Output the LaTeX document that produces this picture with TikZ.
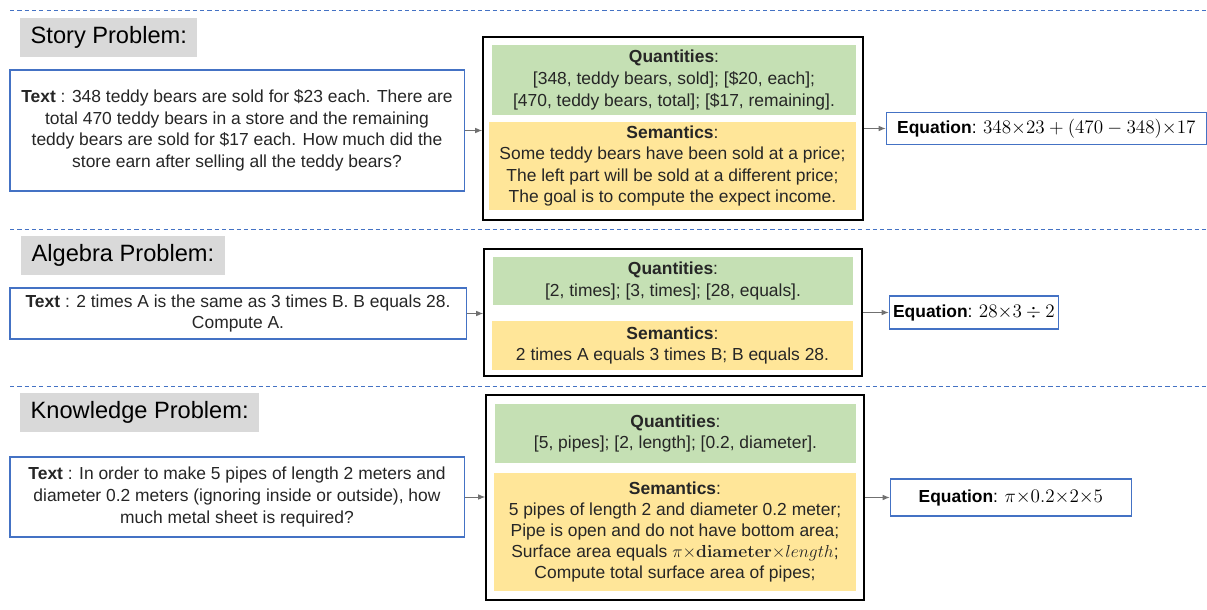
\documentclass[tikz,border=0pt]{standalone}
\usepackage{fix-cm}
\usepackage[no-math]{fontspec}
\setmainfont{Liberation Sans}
\usetikzlibrary{arrows.meta, positioning}
\definecolor{sepblue}{RGB}{68, 114, 196}
\definecolor{quagreen}{RGB}{197, 224, 180}
\definecolor{semyellow}{RGB}{255, 230, 153}
\definecolor{labgray}{RGB}{217, 217, 217}
\definecolor{arrgray}{RGB}{112, 112, 112}
\newcommand{\eqmath}[1]{{\fontsize{13.6}{15}\selectfont$#1$}}

\begin{document}
\begin{tikzpicture}[
    x=0.025cm, y=-0.025cm,
    probtitle/.style={rectangle, fill=labgray, anchor=west, minimum height=0.975cm, inner xsep=0.26cm, font=\fontsize{16.8}{20}\selectfont},
    textbox/.style={rectangle, draw=sepblue, line width=0.8pt, fill=white, align=center, font=\fontsize{12.4}{15.4}\selectfont, text=black!85},
    outerbox/.style={rectangle, draw=black, line width=1pt},
    quabox/.style={rectangle, fill=quagreen, align=center, font=\fontsize{12.4}{15.4}\selectfont, text=black!85},
    sembox/.style={rectangle, fill=semyellow, align=center, font=\fontsize{12.4}{15}\selectfont, text=black!85},
    eqbox/.style={rectangle, draw=sepblue, line width=0.8pt, align=center, inner xsep=2pt, font=\fontsize{12.4}{15}\selectfont},
    flow/.style={-{Latex[length=5pt, width=4pt]}, arrgray, line width=0.7pt},
    separator/.style={sepblue, line width=0.7pt, dash pattern=on 3pt off 2.2pt}
]
\useasboundingbox (0,0) rectangle (1207,610);

% separators
\draw[separator] (10,10) -- (1207,10);
\draw[separator] (10,229) -- (1207,229);
\draw[separator] (10,386) -- (1207,386);

% story problem
\node[probtitle] (lab1) at (20,37.5) {Story Problem:};
\node[textbox, minimum width=11.35cm, minimum height=3.025cm] (txt1) at (237,130.5) {\textbf{Text} : 348 teddy bears are sold for \$23 each. There are\\total 470 teddy bears in a store and the remaining\\teddy bears are sold for \$17 each. How much did the\\store earn after selling all the teddy bears?};
\node[outerbox, minimum width=9.5cm, minimum height=4.575cm] (out1) at (673,128.5) {};
\node[quabox, minimum width=9.1cm, minimum height=1.75cm] (qua1) at (674,80) {\textbf{Quantities}:\\{[}348, teddy bears, sold]; [\$20, each];\\{[}470, teddy bears, total]; [\$17, remaining].};
\node[sembox, minimum width=9.175cm, minimum height=2.2cm] (sem1) at (672.5,166) {\textbf{Semantics}:\\Some teddy bears have been sold at a price;\\The left part will be sold at a different price;\\The goal is to compute the expect income.};
\node[eqbox, minimum width=8cm, minimum height=0.8cm, right=0.55cm of out1] (eq1) {\textbf{Equation}: \eqmath{348{\times}23+(470-348){\times}17}};
\draw[flow] (txt1.east) -- (txt1.east -| out1.west);
\draw[flow] (out1.east) -- (eq1.west);

% algebra problem
\node[probtitle] (lab2) at (21,255.5) {Algebra Problem:};
\node[textbox, minimum width=11.4cm, minimum height=1.275cm] (txt2) at (238,313.5) {\textbf{Text} : 2 times A is the same as 3 times B. B equals 28.\\Compute A.};
\node[outerbox, minimum width=9.45cm, minimum height=3.175cm] (out2) at (673,312.5) {};
\node[quabox, minimum width=9cm, minimum height=1.15cm] (qua2) at (673,281) {\textbf{Quantities}:\\{[}2, times]; [3, times]; [28, equals].};
\node[sembox, minimum width=9.025cm, minimum height=1.225cm] (sem2) at (672.5,345.5) {\textbf{Semantics}:\\2 times A equals 3 times B; B equals 28.};
\node[eqbox, minimum width=4.225cm, minimum height=0.825cm, right=0.65cm of out2] (eq2) {\textbf{Equation}: \eqmath{28{\times}3\div2}};
\draw[flow] (txt2.east) -- (txt2.east -| out2.west);
\draw[flow] (out2.east) -- (eq2.west);

% knowledge problem
\node[probtitle] (lab3) at (20,412.5) {Knowledge Problem:};
\node[textbox, minimum width=11.35cm, minimum height=2cm] (txt3) at (237,497) {\textbf{Text} : In order to make 5 pipes of length 2 meters and\\diameter 0.2 meters (ignoring inside or outside), how\\much metal sheet is required?};
\node[outerbox, minimum width=9.45cm, minimum height=5.125cm] (out3) at (675,497.5) {};
\node[quabox, minimum width=9.025cm, minimum height=1.475cm] (qua3) at (675.5,433.5) {\textbf{Quantities}:\\{[}5, pipes]; [2, length]; [0.2, diameter].};
\node[sembox, minimum width=9.05cm, minimum height=2.95cm] (sem3) at (675,532) {\textbf{Semantics}:\\5 pipes of length 2 and diameter 0.2 meter;\\Pipe is open and do not have bottom area;\\Surface area equals $\pi{\times}\mathbf{diameter}{\times}length$;\\Compute total surface area of pipes;};
\node[eqbox, minimum width=6.025cm, minimum height=0.925cm, right=0.625cm of out3] (eq3) {\textbf{Equation}: \eqmath{\pi{\times}0.2{\times}2{\times}5}};
\draw[flow] (txt3.east) -- (txt3.east -| out3.west);
\draw[flow] (out3.east) -- (eq3.west);
\end{tikzpicture}
\end{document}
